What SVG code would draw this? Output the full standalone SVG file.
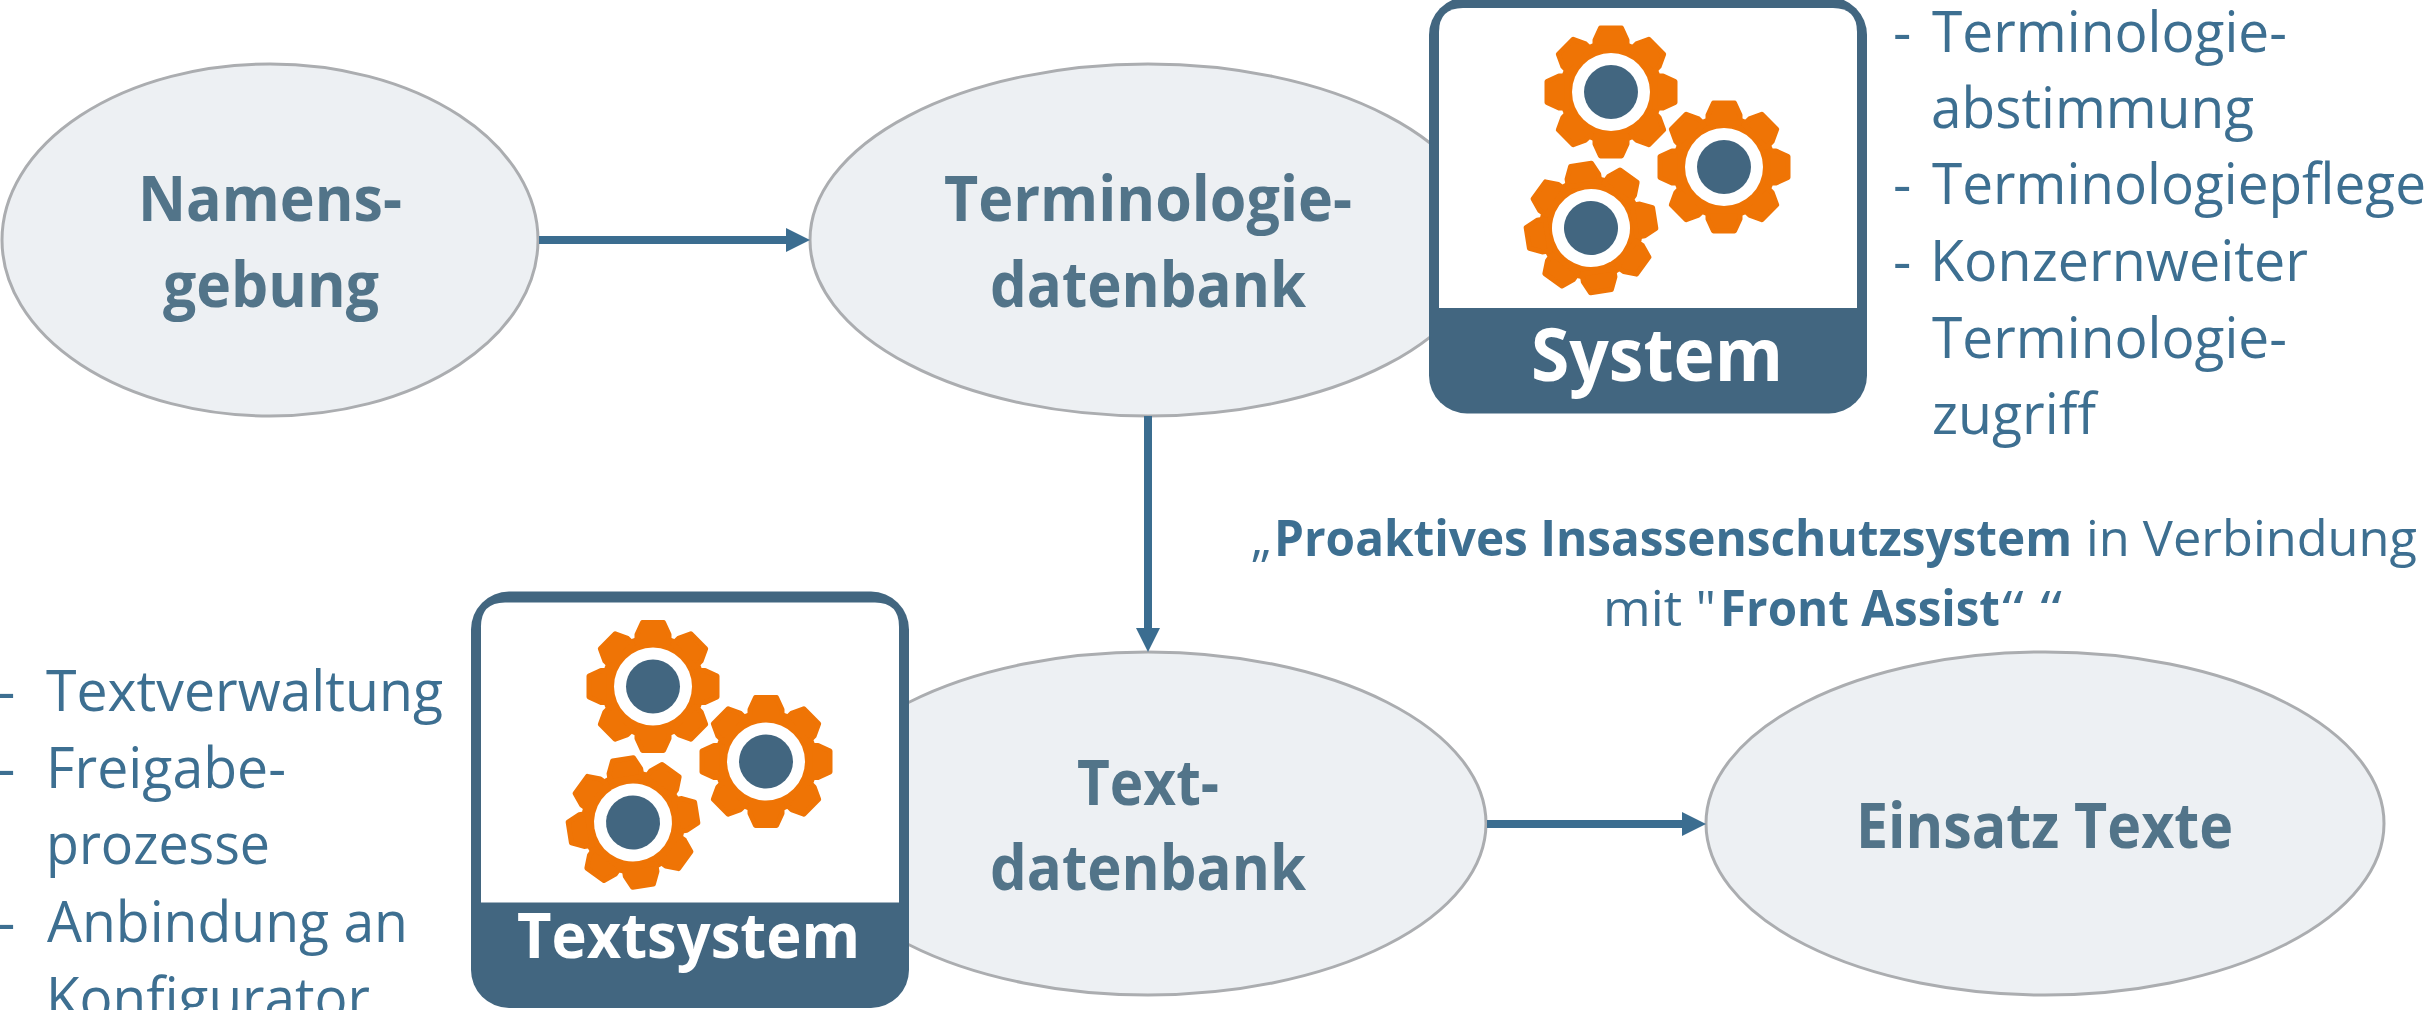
<svg xmlns="http://www.w3.org/2000/svg" xmlns:xlink="http://www.w3.org/1999/xlink" width="2430" height="1010" viewBox="0 0 2430 1010">
<style>
text{font-family:"Open Sans","Noto Sans","Liberation Sans",sans-serif}
.el{fill:#edf0f3;stroke:#abadb0;stroke-width:3}
.t{font-weight:700;font-size:63px;fill:#527489}
.l{font-size:57px;fill:#3d6f91}
.p{font-size:50px;fill:#3d6f91}
.b{font-weight:700}
.w{font-weight:700;fill:#fff}
.c{fill:none;stroke:#3b6d90;stroke-width:8}
.h{fill:#3b6d90}
.tooth{fill:#ef7405;stroke:#ef7405;stroke-width:5;stroke-linejoin:round}
</style>
<defs>
<path id="tooth" class="tooth" d="M44-16H52L64-10.500V10.500L52 16H44Z"/>
<g id="gear">
<circle r="52" fill="#ef7405"/>
<use xlink:href="#tooth"/>
<use xlink:href="#tooth" transform="rotate(45)"/>
<use xlink:href="#tooth" transform="rotate(90)"/>
<use xlink:href="#tooth" transform="rotate(135)"/>
<use xlink:href="#tooth" transform="rotate(180)"/>
<use xlink:href="#tooth" transform="rotate(225)"/>
<use xlink:href="#tooth" transform="rotate(270)"/>
<use xlink:href="#tooth" transform="rotate(315)"/>
<circle r="39" fill="#fff"/>
<circle r="27" fill="#426680"/>
</g>
<g id="icon">
<rect x="1429" y="-3" width="438" height="416.500" rx="38" fill="#426680"/>
<path d="M1439 308V32Q1439 8 1463 8H1833Q1857 8 1857 32V308Z" fill="#fff"/>
<use xlink:href="#gear" transform="translate(1611 92)"/>
<use xlink:href="#gear" transform="translate(1724 167)"/>
<use xlink:href="#gear" transform="translate(1591 228) rotate(-9)"/>
</g>
</defs>
<rect width="2430" height="1010" fill="#fff"/>
<g id="node-namensgebung">
<ellipse class="el" cx="270" cy="240" rx="268" ry="176"/>
<text class="t" x="138" y="221" textLength="264" lengthAdjust="spacingAndGlyphs">Namens-</text>
<text class="t" x="163" y="307" textLength="216" lengthAdjust="spacingAndGlyphs">gebung</text>
</g>
<g id="node-terminologiedatenbank">
<ellipse class="el" cx="1148" cy="240" rx="338" ry="176"/>
<text class="t" x="944" y="221" textLength="408" lengthAdjust="spacingAndGlyphs">Terminologie-</text>
<text class="t" x="990" y="307" textLength="316" lengthAdjust="spacingAndGlyphs">datenbank</text>
</g>
<g id="node-textdatenbank">
<ellipse class="el" cx="1148" cy="823.500" rx="338" ry="171.500"/>
<text class="t" x="1077" y="805" textLength="142" lengthAdjust="spacingAndGlyphs">Text-</text>
<text class="t" x="990" y="890" textLength="316" lengthAdjust="spacingAndGlyphs">datenbank</text>
</g>
<g id="node-einsatz">
<ellipse class="el" cx="2045" cy="823.500" rx="339" ry="171.500"/>
<text class="t" x="1856" y="848" textLength="377" lengthAdjust="spacingAndGlyphs">Einsatz Texte</text>
</g>
<g id="node-system">
<use xlink:href="#icon"/>
<text class="w" font-size="74" x="1531" y="381" textLength="252" lengthAdjust="spacingAndGlyphs">System</text>
</g>
<g id="node-textsystem">
<use xlink:href="#icon" transform="translate(-958 594.500)"/>
<text class="w" font-size="62" x="517" y="958" textLength="343" lengthAdjust="spacingAndGlyphs">Textsystem</text>
</g>
<g id="connectors">
<path class="c" d="M539 240H790"/><path class="h" d="M786 228L810 240L786 252Z"/>
<path class="c" d="M1148 416V632"/><path class="h" d="M1136 628H1160L1148 652Z"/>
<path class="c" d="M1487 824H1686"/><path class="h" d="M1682 812L1706 824L1682 836Z"/>
</g>
<g id="list-system">
<text class="l" x="1893" y="52">-</text>
<text class="l" x="1932" y="52" textLength="355" lengthAdjust="spacingAndGlyphs">Terminologie-</text>
<text class="l" x="1931" y="128" textLength="323" lengthAdjust="spacingAndGlyphs">abstimmung</text>
<text class="l" x="1893" y="204">-</text>
<text class="l" x="1932" y="204" textLength="494" lengthAdjust="spacingAndGlyphs">Terminologiepflege</text>
<text class="l" x="1893" y="281">-</text>
<text class="l" x="1930" y="281" textLength="378" lengthAdjust="spacingAndGlyphs">Konzernweiter</text>
<text class="l" x="1932" y="358" textLength="355" lengthAdjust="spacingAndGlyphs">Terminologie-</text>
<text class="l" x="1932" y="434" textLength="164" lengthAdjust="spacingAndGlyphs">zugriff</text>
</g>
<g id="list-text">
<text class="l" x="-3" y="711">-</text>
<text class="l" x="46" y="711" textLength="397" lengthAdjust="spacingAndGlyphs">Textverwaltung</text>
<text class="l" x="-3" y="788">-</text>
<text class="l" x="46" y="788" textLength="240" lengthAdjust="spacingAndGlyphs">Freigabe-</text>
<text class="l" x="46" y="864" textLength="224" lengthAdjust="spacingAndGlyphs">prozesse</text>
<text class="l" x="-3" y="942">-</text>
<text class="l" x="47" y="942" textLength="361" lengthAdjust="spacingAndGlyphs">Anbindung an</text>
<text class="l" x="46" y="1018" textLength="324" lengthAdjust="spacingAndGlyphs">Konfigurator</text>
</g>
<g id="label">
<text class="p" x="1251" y="556">„</text>
<text class="p b" x="1274" y="556" textLength="798" lengthAdjust="spacingAndGlyphs">Proaktives Insassenschutzsystem</text>
<text class="p" x="2086" y="556" textLength="331" lengthAdjust="spacingAndGlyphs">in Verbindung</text>
<text class="p" x="1603" y="626" textLength="113" lengthAdjust="spacingAndGlyphs">mit "</text>
<text class="p b" x="1720" y="626" textLength="280" lengthAdjust="spacingAndGlyphs">Front Assist</text>
<text class="p" x="2002" y="626" textLength="60" lengthAdjust="spacingAndGlyphs">“ “</text>
</g>
</svg>
